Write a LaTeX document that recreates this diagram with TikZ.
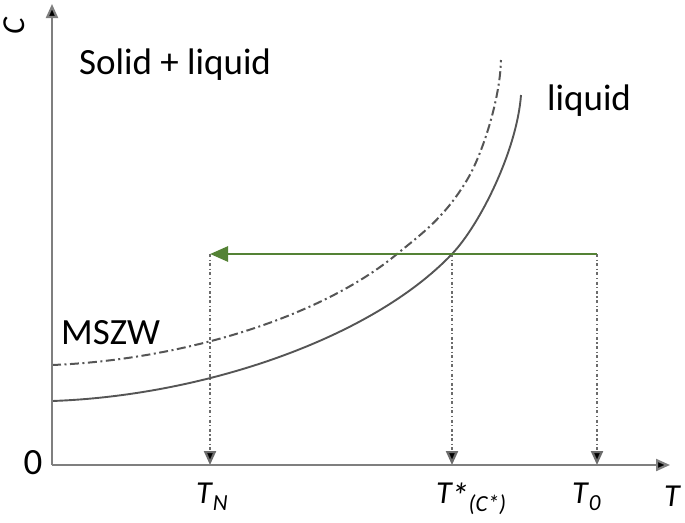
\documentclass[tikz,border=0pt]{standalone}
\usepackage{fontspec}
\setmainfont{Carlito}
\usetikzlibrary{arrows.meta}
\definecolor{axisgray}{HTML}{7F7F7F}
\definecolor{curvegray}{HTML}{555555}
\definecolor{mygreen}{HTML}{548235}
\newcommand\mysubfont{\fontsize{23}{26}\selectfont\itshape}
\newcommand\bigast{\raisebox{-5pt}{\fontsize{36}{40}\selectfont *}}
\tikzset{
  axisline/.style={draw=axisgray, line width=2.2pt, -{Triangle[length=14pt,width=12pt,fill=black]}},
  curve/.style={draw=curvegray, line width=1.9pt},
  mszwcurve/.style={draw=curvegray, line width=2pt, dash pattern=on 9pt off 3.5pt on 2pt off 3.5pt},
  dropline/.style={draw=axisgray!85!black, line width=2.2pt, dash pattern=on 3pt off 2.5pt on 1.2pt off 2.5pt, -{Triangle[length=14pt,width=12pt,fill=black]}},
  greenarrow/.style={draw=mygreen, line width=2.8pt, -{Triangle[length=18pt,width=15pt,fill=mygreen]}},
  lab/.style={inner sep=0pt, font=\fontsize{37}{42}\selectfont},
  tlab/.style={inner sep=0pt, font=\fontsize{32}{36}\selectfont\itshape},
}
\begin{document}
\begin{tikzpicture}[x=1pt,y=-1pt]
\useasboundingbox (0,0) rectangle (685,522);
% key points
\coordinate (O) at (52,465);
\coordinate (Ytop) at (52,4);
\coordinate (Xend) at (670,465);
\coordinate (Gs) at (597,254);
\coordinate (Ge) at (210,254);
\coordinate (Gm) at (452,254);
\coordinate (Gd) at (397,254);
\coordinate (TNax) at (210,465);
\coordinate (Tsax) at (452,465);
\coordinate (T0ax) at (597,465);
% curves
\draw[mszwcurve] (52,365) .. controls (180,360) and (320,318) .. (Gd)
  .. controls (420,235) and (444,218.5) .. (467,180)
  .. controls (482,155) and (500,100) .. (501,60);
\draw[curve] (52,401) .. controls (200,396) and (370,340) .. (Gm)
  .. controls (480,224.6) and (517,150) .. (521,95);
% drop lines
\draw[dropline] (Ge) -- (TNax);
\draw[dropline] (Gm) -- (Tsax);
\draw[dropline] (Gs) -- (T0ax);
% green arrow
\draw[greenarrow] (Gs) -- (Ge);
% axes
\draw[axisline] (O) -- (Ytop);
\draw[axisline] (O) -- (Xend);
% labels
\node[tlab, rotate=90] (clab) at (14,26) {C};
\node[lab] (zero) at (33,463) {0};
\node[lab, anchor=west] (sl) at (79,65) {Solid + liquid};
\node[lab, anchor=west] (liq) at (547,101) {liquid};
\node[lab, anchor=west] (mszw) at (61,333) {MSZW};
\node[tlab, anchor=base west] (tn) at (196,503) {T\kern1pt\raisebox{-7pt}{\mysubfont N}};
\node[tlab, anchor=base west] (ts) at (436,503) {T\kern-1pt\bigast\raisebox{-8pt}{\mysubfont (C*)}};
\node[tlab, anchor=base west] (t0) at (572,503) {T\kern1pt\raisebox{-7pt}{\mysubfont 0}};
\node[tlab, anchor=base west] (tt) at (664,506) {T};
\end{tikzpicture}
\end{document}
